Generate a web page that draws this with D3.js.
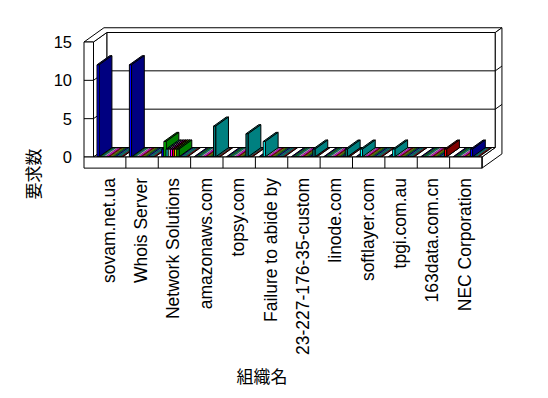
<!DOCTYPE html>
<html>
<head>
<meta charset="UTF-8">
<script src="https://cdn.jsdelivr.net/npm/d3@7"></script>
<style>
  body { margin: 0; background: #fff; }
  text { font-family: "Liberation Sans", Arial, sans-serif; fill: #000; }
</style>
</head>
<body>
<div id="chart"></div>
<script>
// categories (組織名)
var categories = ["sovam.net.ua", "Whois Server", "Network Solutions", "amazonaws.com", "topsy.com",
  "Failure to abide by", "23-227-176-35-custom", "linode.com", "softlayer.com", "tpgi.com.au",
  "163data.com.cn", "NEC Corporation"];
var yTicks = [0, 5, 10, 15];

// series: front colour, side/top colour, values per category
var seriesNames = ["s1", "s2", "s3", "s4", "s5", "s6", "s7", "s8", "s9", "s10", "s11", "s12"];
var frontColors = ["#0000ff", "#00ff00", "#00ffff", "#ffffff", "#ff00ff", "#ff0000", "#ffff00", "#00c000", "#0000ff", "#008080", "#008080", "#ff0000"];
var sideColors  = ["#000080", "#008000", "#008080", "#c0c0c0", "#ff00ff", "#800000", "#808000", "#008000", "#000080", "#008080", "#008080", "#800000"];
var values = [
  [12, 12, 1, 0, 0, 0, 0, 0, 0, 0, 0, 0],
  [0, 0, 2, 0, 0, 0, 0, 0, 0, 0, 0, 0],
  [0, 0, 1, 0, 0, 2, 0, 0, 1, 1, 0, 0],
  [0, 0, 1, 0, 0, 0, 0, 0, 0, 0, 0, 0],
  [0, 0, 1, 0, 0, 0, 0, 0, 0, 0, 0, 0],
  [0, 0, 1, 0, 0, 0, 0, 0, 0, 0, 0, 0],
  [0, 0, 1, 0, 0, 0, 0, 0, 0, 0, 0, 0],
  [0, 0, 1, 0, 0, 0, 0, 0, 0, 0, 0, 0],
  [0, 0, 0, 0, 0, 0, 0, 0, 0, 0, 0, 1],
  [0, 0, 0, 4, 3, 0, 0, 0, 0, 0, 0, 0],
  [0, 0, 0, 0, 0, 0, 1, 1, 0, 0, 0, 0],
  [0, 0, 0, 0, 0, 0, 0, 0, 0, 0, 1, 0]
];

var W = 548, H = 398;
var svg = d3.select("#chart").append("svg").attr("width", W).attr("height", H);

var y = d3.scaleLinear().domain([0, 15]).range([157, 42]);
var x = d3.scaleBand().domain(categories).range([93.5, 482]);
var xs = d3.scaleBand().domain(seriesNames).range([0, x.bandwidth()]).paddingOuter(1.5);
var FLOOR = -1.45;       // floor slab thickness in value units
var DX = 13.3, DY = 9.5; // depth offset per depth unit
var WALL_L = 84, WALL_R = 482, X0 = x.range()[0];

function P(X, v, z) { return [X + z * DX, y(v) - z * DY]; }
function poly(pts) { return pts.map(function (p) { return p.join(","); }).join(" "); }
function face(pts, fill, sw) {
  return svg.append("polygon").attr("points", poly(pts)).attr("fill", fill)
    .attr("stroke", sw === 0 ? "none" : "#000").attr("stroke-width", sw || 1).attr("stroke-linejoin", "round");
}
function seg(a, b) {
  svg.append("line").attr("x1", a[0]).attr("y1", a[1]).attr("x2", b[0]).attr("y2", b[1])
    .attr("stroke", "#000").attr("stroke-width", 1);
}
var inner = yTicks.filter(function (t) { return t > 0 && t < 15; });

// back wall inner face + gridlines
face([P(X0, 0, 1), P(WALL_R, 0, 1), P(WALL_R, 15, 1), P(X0, 15, 1)], "#fff");
inner.forEach(function (t) { seg(P(X0, t, 1), P(WALL_R, t, 1)); });
// left wall inner face
face([P(X0, 0, 0), P(X0, 0, 1), P(X0, 15, 1), P(X0, 15, 0)], "#fff");
inner.forEach(function (t) { seg(P(X0, t, 0), P(X0, t, 1)); });
// top of the walls
face([P(WALL_L, 15, 0), P(X0, 15, 0), P(X0, 15, 1), P(WALL_R, 15, 1), P(WALL_R, 15, 1.5), P(WALL_L, 15, 1.5)], "#fff");
// right side of floor + back wall
face([P(WALL_R, 0, 0), P(WALL_R, FLOOR, 0), P(WALL_R, FLOOR, 1.5), P(WALL_R, 15, 1.5), P(WALL_R, 15, 1), P(WALL_R, 0, 1)], "#fff");
inner.forEach(function (t) { seg(P(WALL_R, t, 1), P(WALL_R, t, 1.5)); });
// floor
face([P(X0, 0, 0), P(WALL_R, 0, 0), P(WALL_R, 0, 1), P(X0, 0, 1)], "#fff");

var Z0 = 0.02, Z1 = 0.98;
// flat (zero) tiles first, one outline per category group
categories.forEach(function (c, ci) {
  seriesNames.forEach(function (s, si) {
    var a = x(c) + xs(s), b = a + xs.bandwidth();
    face([P(a, 0, Z0), P(b, 0, Z0), P(b, 0, Z1), P(a, 0, Z1)], sideColors[si], 0.35);
  });
  var g0 = x(c) + xs(seriesNames[0]), g1 = x(c) + xs(seriesNames[seriesNames.length - 1]) + xs.bandwidth();
  face([P(g0, 0, Z0), P(g1, 0, Z0), P(g1, 0, Z1), P(g0, 0, Z1)], "none", 1);
});
// raised bars, left to right
categories.forEach(function (c, ci) {
  seriesNames.forEach(function (s, si) {
    var v = values[si][ci];
    if (v <= 0) return;
    var a = x(c) + xs(s), b = a + xs.bandwidth();
    face([P(a, v, Z0), P(b, v, Z0), P(b, v, Z1), P(a, v, Z1)], sideColors[si]);
    face([P(b, 0, Z0), P(b, v, Z0), P(b, v, Z1), P(b, 0, Z1)], sideColors[si]);
    face([P(a, 0, Z0), P(b, 0, Z0), P(b, v, Z0), P(a, v, Z0)], frontColors[si]);
  });
});

// front faces of the left wall and the floor slab
face([P(WALL_L, 0, 0), P(X0, 0, 0), P(X0, 15, 0), P(WALL_L, 15, 0)], "#fff");
inner.forEach(function (t) { seg(P(WALL_L, t, 0), P(X0, t, 0)); });
face([P(WALL_L, FLOOR, 0), P(WALL_R, FLOOR, 0), P(WALL_R, 0, 0), P(WALL_L, 0, 0)], "#fff");
categories.forEach(function (c) {
  seg(P(x(c) + x.bandwidth(), 0, 0), P(x(c) + x.bandwidth(), FLOOR, 0));
});

// value labels
svg.selectAll(".ytick").data(yTicks).enter().append("text")
  .attr("x", 72).attr("y", function (d) { return y(d); })
  .attr("text-anchor", "end").attr("dominant-baseline", "central")
  .attr("font-size", 16.5).text(function (d) { return d; });

// category labels
svg.selectAll(".xlab").data(categories).enter().append("text")
  .attr("transform", function (d) { return "translate(" + (x(d) + x.bandwidth() / 2 - 1) + ",178) rotate(-90)"; })
  .attr("text-anchor", "end").attr("dominant-baseline", "central")
  .attr("font-size", 17.5).text(function (d) { return d; });

// axis titles
svg.append("text").attr("transform", "translate(32,174) rotate(-90)")
  .attr("text-anchor", "middle").attr("dominant-baseline", "central")
  .style("font-family", "'Noto Sans CJK JP'").attr("font-size", 17).text("要求数");
svg.append("text").attr("x", 262).attr("y", 375)
  .attr("text-anchor", "middle").attr("dominant-baseline", "central")
  .style("font-family", "'Noto Sans CJK JP'").attr("font-size", 17).text("組織名");
</script>
</body>
</html>
